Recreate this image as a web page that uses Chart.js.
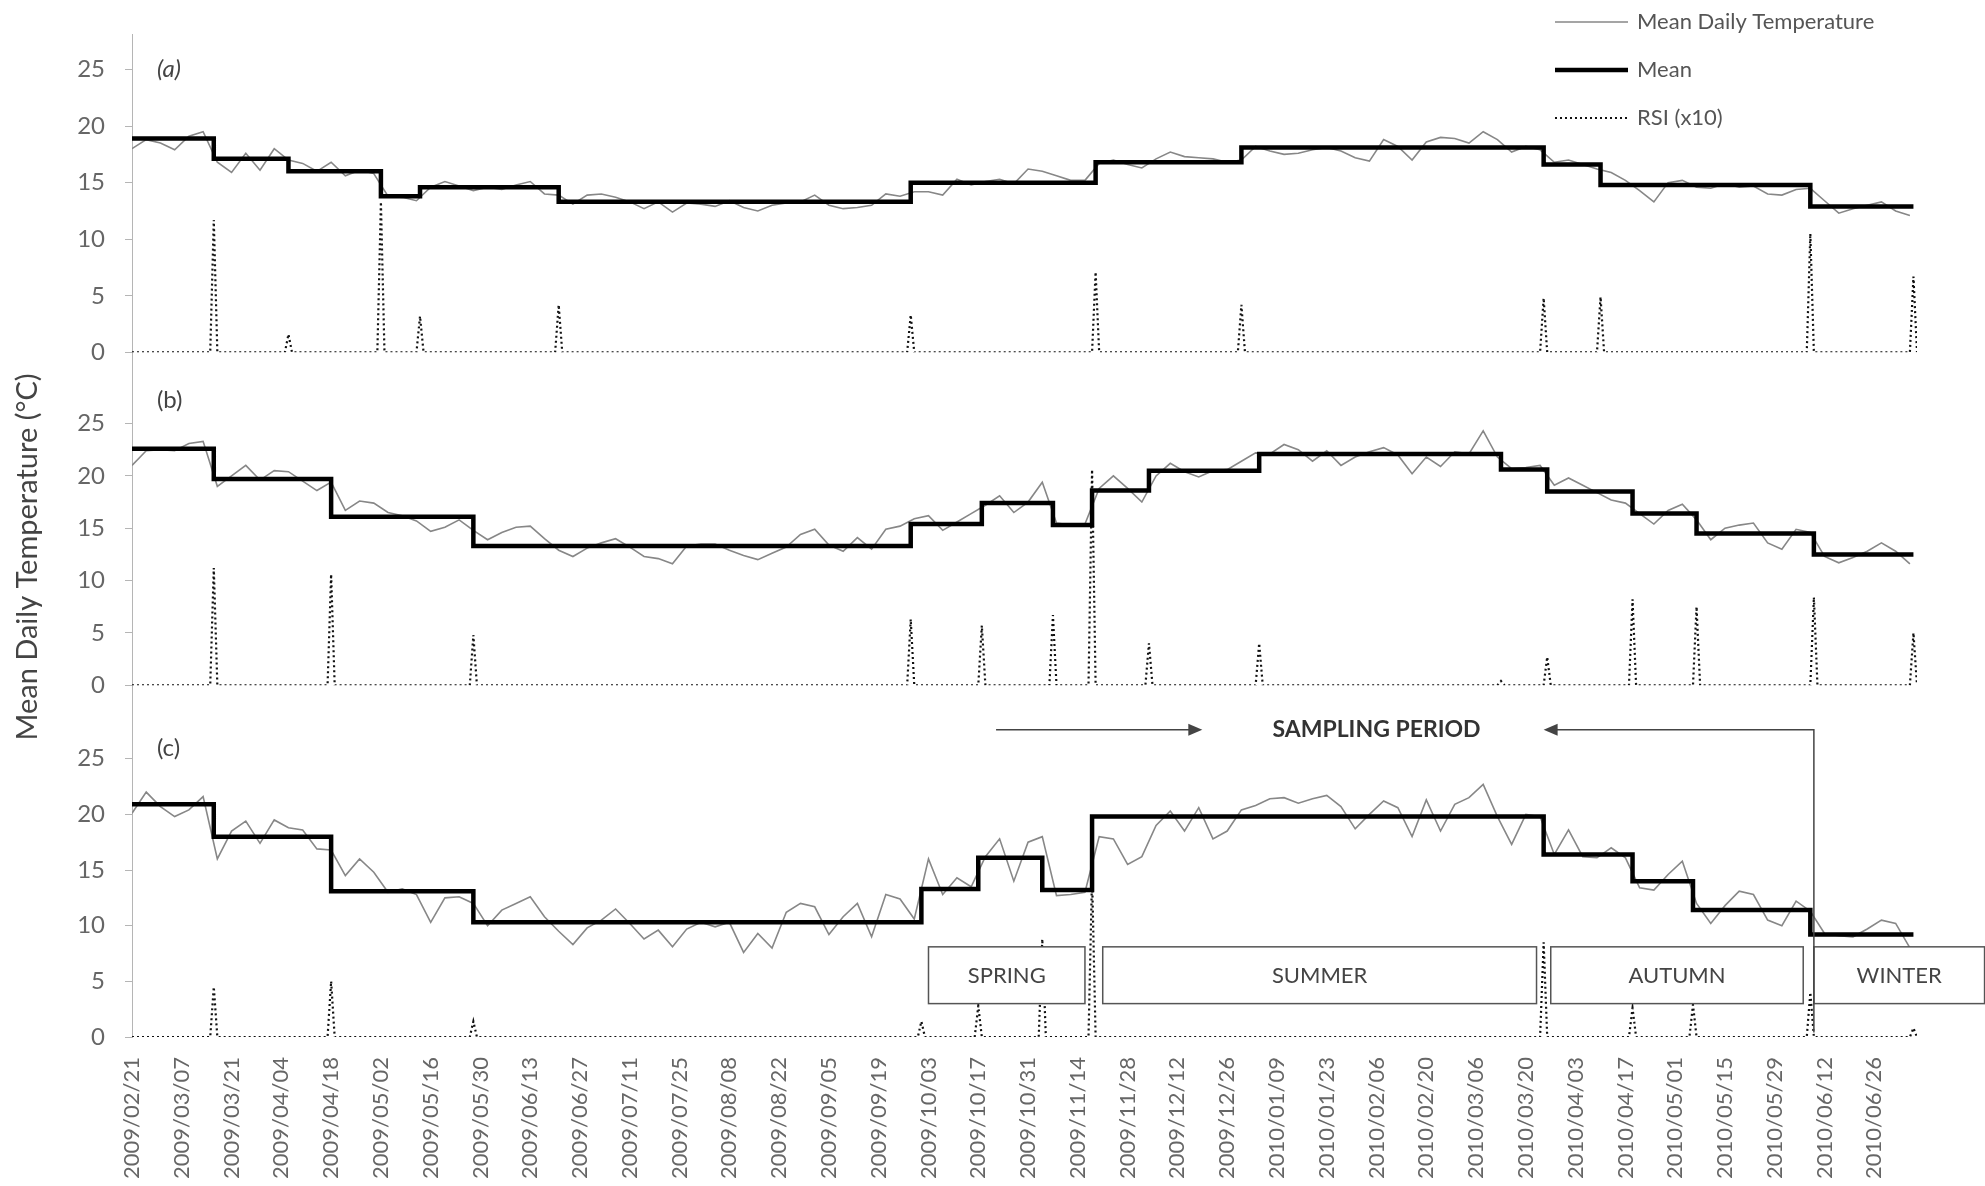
<!DOCTYPE html>
<html>
<head>
<meta charset="utf-8">
<title>Mean Daily Temperature</title>
<script src="https://cdn.jsdelivr.net/npm/chart.js@4.4.1/dist/chart.umd.min.js"></script>
<style>
  body { margin: 0; background: #fff; }
  #wrap { width: 1985px; height: 1186px; }
</style>
</head>
<body>
<div id="wrap"><canvas id="chart" width="1985" height="1186"></canvas></div>
<script>
// x axis labels, one every 14 days from 2009/02/21 (day 0)
const dateLabels = [
  "2009/02/21", "2009/03/07", "2009/03/21", "2009/04/04", "2009/04/18", "2009/05/02",
  "2009/05/16", "2009/05/30", "2009/06/13", "2009/06/27", "2009/07/11", "2009/07/25",
  "2009/08/08", "2009/08/22", "2009/09/05", "2009/09/19", "2009/10/03", "2009/10/17",
  "2009/10/31", "2009/11/14", "2009/11/28", "2009/12/12", "2009/12/26", "2010/01/09",
  "2010/01/23", "2010/02/06", "2010/02/20", "2010/03/06", "2010/03/20", "2010/04/03",
  "2010/04/17", "2010/05/01", "2010/05/15", "2010/05/29", "2010/06/12", "2010/06/26"
];
const LABEL_STEP = 14;
const LAST_DAY = 501;
const yTicks = [0, 5, 10, 15, 20, 25];

// daily temperature, one reading every 4 days
const DAY_STEP = 4;
const dailyA = [
  18.0, 18.8, 18.5, 17.9, 19.1, 19.5, 16.8, 15.9, 17.6, 16.1,
  18.0, 17.0, 16.7, 16.0, 16.8, 15.6, 16.1, 15.8, 13.8, 13.7,
  13.4, 14.6, 15.1, 14.7, 14.3, 14.6, 14.4, 14.8, 15.1, 14.0,
  13.9, 13.1, 13.9, 14.0, 13.7, 13.3, 12.7, 13.3, 12.4, 13.2,
  13.1, 12.9, 13.4, 12.8, 12.5, 13.0, 13.2, 13.3, 13.9, 13.0,
  12.7, 12.8, 13.0, 14.0, 13.8, 14.2, 14.2, 13.9, 15.3, 14.8,
  15.1, 15.3, 14.9, 16.2, 16.0, 15.6, 15.2, 15.2, 16.7, 17.0,
  16.6, 16.3, 17.1, 17.7, 17.3, 17.2, 17.1, 16.8, 17.0, 18.2,
  17.8, 17.5, 17.6, 17.9, 18.1, 17.8, 17.2, 16.9, 18.8, 18.2,
  17.0, 18.6, 19.0, 18.9, 18.5, 19.5, 18.8, 17.7, 18.2, 17.9,
  16.8, 17.0, 16.6, 16.2, 15.9, 15.2, 14.3, 13.3, 15.0, 15.2,
  14.6, 14.5, 14.9, 14.6, 14.7, 14.0, 13.9, 14.4, 14.5, 13.4,
  12.3, 12.7, 13.0, 13.3, 12.5, 12.1
];
const dailyB = [
  21.0, 22.4, 22.5, 22.4, 23.1, 23.3, 19.0, 20.0, 21.0, 19.6,
  20.5, 20.4, 19.5, 18.6, 19.4, 16.7, 17.6, 17.4, 16.5, 16.2,
  15.7, 14.7, 15.1, 15.8, 14.8, 13.9, 14.6, 15.1, 15.2, 14.0,
  12.9, 12.3, 13.1, 13.6, 14.0, 13.2, 12.3, 12.1, 11.6, 13.3,
  13.5, 13.5, 12.9, 12.4, 12.0, 12.6, 13.2, 14.4, 14.9, 13.4,
  12.8, 14.1, 13.0, 14.9, 15.2, 15.9, 16.2, 14.8, 15.6, 16.4,
  17.2, 18.1, 16.5, 17.5, 19.4, 15.5, 15.3, 15.4, 18.8, 20.0,
  18.8, 17.5, 20.0, 21.2, 20.4, 19.9, 20.5, 20.6, 21.4, 22.2,
  22.1, 23.0, 22.5, 21.4, 22.4, 21.0, 21.8, 22.3, 22.7, 22.0,
  20.2, 21.8, 20.9, 22.3, 22.1, 24.3, 21.8, 20.7, 20.8, 21.0,
  19.1, 19.8, 19.1, 18.4, 17.7, 17.4, 16.4, 15.4, 16.7, 17.3,
  15.8, 13.9, 15.0, 15.3, 15.5, 13.6, 13.0, 14.9, 14.6, 12.3,
  11.7, 12.2, 12.8, 13.6, 12.8, 11.6
];
const dailyC = [
  20.1, 22.0, 20.7, 19.8, 20.4, 21.6, 16.0, 18.5, 19.4, 17.4,
  19.5, 18.8, 18.6, 16.9, 16.8, 14.5, 16.0, 14.8, 13.0, 13.3,
  12.8, 10.3, 12.5, 12.6, 12.0, 10.0, 11.4, 12.0, 12.6, 10.8,
  9.5, 8.3, 9.8, 10.5, 11.5, 10.2, 8.8, 9.6, 8.1, 9.7,
  10.3, 9.9, 10.3, 7.6, 9.3, 8.0, 11.2, 12.0, 11.7, 9.2,
  10.8, 12.0, 9.0, 12.8, 12.4, 10.6, 16.0, 12.8, 14.3, 13.5,
  16.2, 17.8, 14.0, 17.5, 18.0, 12.7, 12.8, 13.0, 18.0, 17.8,
  15.5, 16.2, 19.0, 20.3, 18.5, 20.6, 17.8, 18.5, 20.4, 20.8,
  21.4, 21.5, 21.0, 21.4, 21.7, 20.7, 18.7, 20.0, 21.2, 20.6,
  18.0, 21.3, 18.5, 20.9, 21.5, 22.7, 19.8, 17.3, 20.0, 19.8,
  16.4, 18.6, 16.2, 16.1, 17.0, 16.1, 13.4, 13.2, 14.6, 15.8,
  12.0, 10.2, 11.8, 13.1, 12.8, 10.5, 10.0, 12.2, 11.3, 9.3,
  9.1, 9.0, 9.7, 10.5, 10.2, 8.0
];

// mean of each regime: start day and level
const meanStartA = [0, 23, 44, 70, 81, 120, 219, 271, 312, 397, 413, 472];
const meanLevelA = [18.9, 17.1, 16.0, 13.8, 14.6, 13.3, 15.0, 16.8, 18.1, 16.6, 14.8, 12.9];
const meanStartB = [0, 23, 56, 96, 219, 239, 259, 270, 286, 317, 385, 398, 422, 440, 473];
const meanLevelB = [22.6, 19.7, 16.1, 13.3, 15.4, 17.4, 15.3, 18.6, 20.5, 22.1, 20.6, 18.5, 16.4, 14.5, 12.5];
const meanStartC = [0, 23, 56, 96, 222, 238, 256, 270, 397, 422, 439, 472];
const meanLevelC = [20.9, 18.0, 13.1, 10.3, 13.3, 16.1, 13.2, 19.8, 16.4, 14.0, 11.4, 9.2];

// regime shift index (x10), zero except on these days
const rsiDayA = [23, 44, 70, 81, 120, 219, 271, 312, 397, 413, 472, 501];
const rsiValA = [11.7, 1.6, 13.3, 3.2, 4.2, 3.3, 7.1, 4.2, 4.8, 4.9, 10.5, 6.7];
const rsiDayB = [23, 56, 96, 219, 239, 259, 270, 286, 317, 385, 398, 422, 440, 473, 501];
const rsiValB = [11.2, 10.6, 4.8, 6.3, 5.7, 6.7, 20.6, 4.0, 4.0, 0.4, 2.7, 8.2, 7.5, 8.4, 5.0];
const rsiDayC = [23, 56, 96, 222, 238, 256, 270, 397, 422, 439, 472, 501];
const rsiValC = [4.5, 5.0, 1.4, 1.4, 2.8, 8.8, 14.5, 8.5, 2.6, 2.9, 4.0, 0.8];

// seasons drawn under panel (c)
const seasonNames = ["SPRING", "SUMMER", "AUTUMN", "WINTER"];
const seasonStart = [224, 273, 399, 473];
const seasonEnd = [268, 395, 470, 521];
const seasonLow = 3.0, seasonHigh = 8.1;

const seriesNames = ["Mean Daily Temperature", "Mean", "RSI (x10)"];

function dailyPoints(values) {
  return values.map((v, i) => ({ x: i * DAY_STEP, y: v }));
}

function stepPoints(starts, levels) {
  const pts = [];
  starts.forEach((s, i) => {
    const end = i < starts.length - 1 ? starts[i + 1] : LAST_DAY;
    pts.push({ x: s, y: levels[i] }, { x: end, y: levels[i] });
  });
  return pts;
}

function rsiPoints(days, values) {
  const pts = [{ x: 0, y: 0 }];
  days.forEach((d, i) => {
    pts.push({ x: d - 1, y: 0 }, { x: d, y: values[i] }, { x: d + 1, y: 0 });
  });
  if (pts[pts.length - 1].x < LAST_DAY) pts.push({ x: LAST_DAY, y: 0 });
  return pts;
}

const dailyStyle = { borderColor: "#878787", borderWidth: 1.6, order: 1 };
const meanStyle = { borderColor: "#000", borderWidth: 4.5, order: 0 };
const rsiStyle = { borderColor: "#111", borderWidth: 2.2, borderDash: [2, 3], order: 2 };

function panelDatasets(axis, daily, mStart, mLevel, rDay, rVal) {
  return [
    Object.assign({ label: seriesNames[0], yAxisID: axis, data: dailyPoints(daily) }, dailyStyle),
    Object.assign({ label: seriesNames[1], yAxisID: axis, data: stepPoints(mStart, mLevel) }, meanStyle),
    Object.assign({ label: seriesNames[2], yAxisID: axis, data: rsiPoints(rDay, rVal) }, rsiStyle)
  ];
}

function panelAxis(max, height, weight) {
  return {
    type: "linear",
    position: "left",
    stack: "panels",
    stackWeight: height,
    weight: weight,
    min: 0,
    max: max,
    afterBuildTicks: s => { s.ticks = yTicks.map(v => ({ value: v })); },
    afterFit: s => { s.width = 132; },
    grid: { drawOnChartArea: false, color: "#b5b5b5", tickLength: 7 },
    border: { color: "#b5b5b5" },
    ticks: { color: "#666", padding: 20, font: { family: "Lato", size: 24 }, callback: v => v }
  };
}

function arrowHead(ctx, x, y, dir) {
  ctx.beginPath();
  ctx.moveTo(x, y);
  ctx.lineTo(x - dir * 14, y - 6);
  ctx.lineTo(x - dir * 14, y + 6);
  ctx.closePath();
  ctx.fill();
}

// season boxes, sampling period, panel letters, axis title and legend
const decorations = {
  id: "decorations",
  afterDatasetsDraw(chart) {
    const { ctx, scales } = chart;
    const x = scales.x, y = scales.yC;
    ctx.save();
    ctx.lineWidth = 1.5;
    ctx.strokeStyle = "#555";
    ctx.font = "22px Lato";
    ctx.textAlign = "center";
    ctx.textBaseline = "middle";
    seasonNames.forEach((name, i) => {
      const l = x.getPixelForValue(seasonStart[i]);
      const r = x.getPixelForValue(seasonEnd[i]);
      const t = y.getPixelForValue(seasonHigh);
      const b = y.getPixelForValue(seasonLow);
      ctx.fillStyle = "#fff";
      ctx.fillRect(l, t, r - l, b - t);
      ctx.strokeRect(l, t, r - l, b - t);
      ctx.fillStyle = "#444";
      ctx.fillText(name, (l + r) / 2, (t + b) / 2 + 1);
    });

    // sampling period arrows
    const ay = y.getPixelForValue(27.6);
    const x1 = x.getPixelForValue(243), x2 = x.getPixelForValue(301);
    const x3 = x.getPixelForValue(397), x4 = x.getPixelForValue(473);
    ctx.strokeStyle = "#444";
    ctx.fillStyle = "#444";
    ctx.beginPath();
    ctx.moveTo(x1, ay); ctx.lineTo(x2 - 10, ay);
    ctx.moveTo(x3 + 10, ay); ctx.lineTo(x4, ay); ctx.lineTo(x4, y.getPixelForValue(0.4));
    ctx.stroke();
    arrowHead(ctx, x2, ay, 1);
    arrowHead(ctx, x3, ay, -1);
    ctx.fillStyle = "#333";
    ctx.font = "bold 23px Lato";
    ctx.fillText("SAMPLING PERIOD", x.getPixelForValue(350), ay);
    ctx.restore();
  },
  afterDraw(chart) {
    const { ctx, scales } = chart;
    const x = scales.x;
    ctx.save();
    ctx.fillStyle = "#444";
    ctx.textBaseline = "middle";
    ctx.textAlign = "left";
    ctx.font = "italic 24px Lato";
    ctx.fillText("(a)", x.getPixelForValue(7), scales.yA.getPixelForValue(25));
    ctx.font = "24px Lato";
    ctx.fillText("(b)", x.getPixelForValue(7), scales.yB.getPixelForValue(27.2));
    ctx.fillText("(c)", x.getPixelForValue(7), scales.yC.getPixelForValue(25.9));

    // shared y axis title
    ctx.save();
    ctx.translate(28, 557);
    ctx.rotate(-Math.PI / 2);
    ctx.textAlign = "center";
    ctx.font = "29px Lato";
    ctx.fillText("Mean Daily Temperature (\u00B0C)", 0, 0);
    ctx.restore();

    // legend
    const sets = chart.data.datasets.slice(0, 3);
    ctx.font = "22px Lato";
    ctx.fillStyle = "#555";
    sets.forEach((ds, i) => {
      const ly = 22 + i * 48;
      ctx.beginPath();
      ctx.strokeStyle = ds.borderColor;
      ctx.lineWidth = ds.borderWidth;
      ctx.setLineDash(ds.borderDash || []);
      ctx.moveTo(1555, ly);
      ctx.lineTo(1628, ly);
      ctx.stroke();
      ctx.setLineDash([]);
      ctx.fillText(ds.label, 1637, ly);
    });
    ctx.restore();
  }
};

new Chart(document.getElementById("chart"), {
  type: "line",
  data: {
    datasets: [
      ...panelDatasets("yA", dailyA, meanStartA, meanLevelA, rsiDayA, rsiValA),
      ...panelDatasets("yB", dailyB, meanStartB, meanLevelB, rsiDayB, rsiValB),
      ...panelDatasets("yC", dailyC, meanStartC, meanLevelC, rsiDayC, rsiValC)
    ]
  },
  options: {
    responsive: false,
    animation: false,
    events: [],
    layout: { padding: { left: 0, top: 28, right: 68, bottom: 0 } },
    elements: { point: { radius: 0 }, line: { tension: 0, fill: false } },
    scales: {
      x: {
        type: "linear",
        min: 0,
        max: 502,
        afterBuildTicks: s => { s.ticks = dateLabels.map((_, i) => ({ value: i * LABEL_STEP })); },
        afterFit: s => { s.height = 149; },
        grid: { display: false },
        border: { display: false },
        ticks: {
          autoSkip: false,
          minRotation: 90,
          maxRotation: 90,
          padding: 12,
          color: "#666",
          font: { family: "Lato", size: 22 },
          callback: v => dateLabels[Math.round(v / LABEL_STEP)]
        }
      },
      yA: panelAxis(28.1, 320, 3),
      yB: panelAxis(31.8, 335, 2),
      yC: panelAxis(31.6, 354, 1)
    },
    plugins: {
      legend: { display: false },
      tooltip: { enabled: false }
    }
  },
  plugins: [decorations]
});
</script>
</body>
</html>
